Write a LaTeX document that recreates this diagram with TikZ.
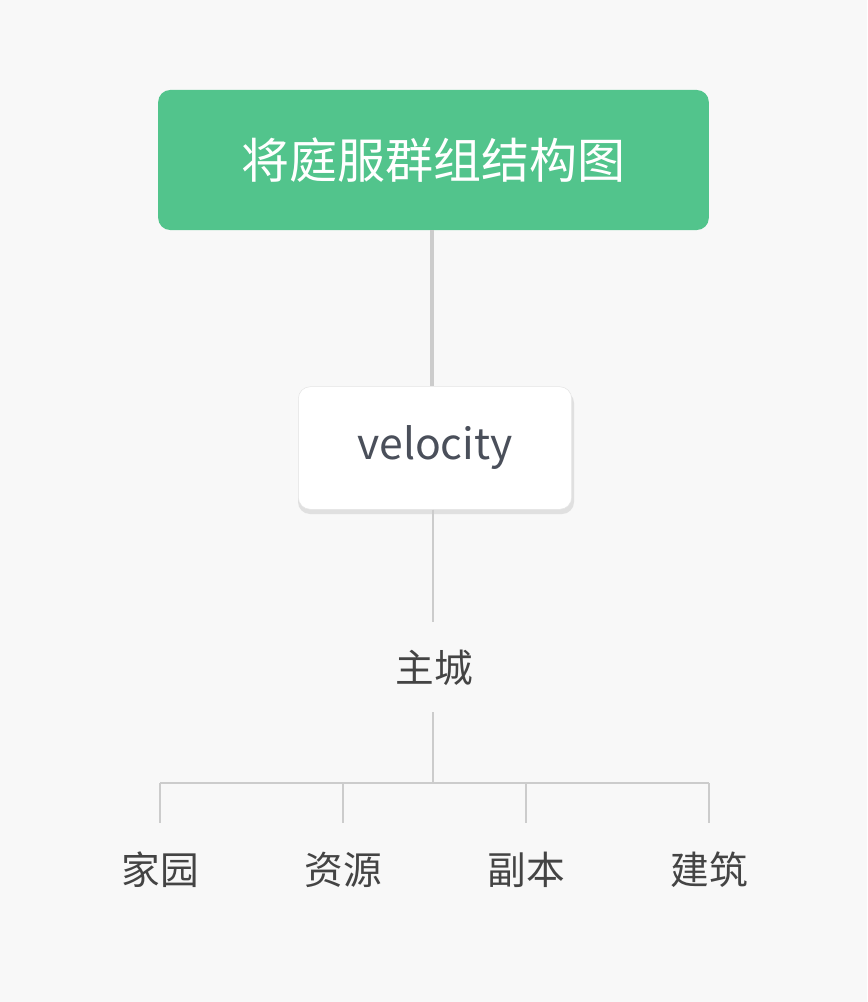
\documentclass[tikz,border=0pt]{standalone}
\usepackage{fontspec}
\usepackage{xcolor}
\usepackage{tikz}
\newfontfamily\cjk{Noto Sans CJK SC}
\definecolor{bgc}{HTML}{F8F8F8}
\definecolor{rootc}{HTML}{52C48C}
\definecolor{linec}{HTML}{CCCCCC}
\definecolor{textc}{HTML}{444444}
\definecolor{velc}{HTML}{4A4F5A}
\tikzset{
  leaf/.style={text=textc, font=\cjk\fontsize{29}{34}\selectfont},
  conn/.style={draw=linec, line width=1.5pt}
}
\begin{document}
\begin{tikzpicture}[x=0.75pt, y=-0.75pt]
        \fill[bgc] (0,0) rectangle (867,1002);
        \node[fill=rootc, rounded corners=9pt, minimum width=413pt, minimum height=105pt,
              text=white, font=\cjk\fontsize{36}{42}\selectfont] (root) at (433.5,160) {将庭服群组结构图};
        \fill[black!12, rounded corners=9pt] (298,391) rectangle (574,514);
        \node[fill=white, draw=black!10, rounded corners=9pt, minimum width=205pt, minimum height=92pt,
              text=velc, font=\cjk\fontsize{32}{38}\selectfont] (vel) at (435,448) {velocity};
        \node[leaf] (city) at (434,668) {主城};
        \coordinate (top) at (433,622);
        \coordinate (bot) at (433,712);
        \coordinate (hub) at (433,783);
        \node[leaf] (home) at (160,870) {家园};
        \node[leaf] (res) at (343,870) {资源};
        \node[leaf] (dung) at (526,870) {副本};
        \node[leaf] (build) at (709,870) {建筑};

        \draw[draw=linec, line width=3pt] (root.south -| 432,0) -- (vel.north -| 432,0);
        \draw[conn] (vel.south -| hub) -- (top);
        \draw[conn] (bot) -- (hub);
        \draw[conn] (home |- hub) -- (build |- hub);
        \foreach \n in {home,res,dung,build}
          \draw[conn] (\n |- hub) -- ++(0,40);
    \end{tikzpicture}
\end{document}
